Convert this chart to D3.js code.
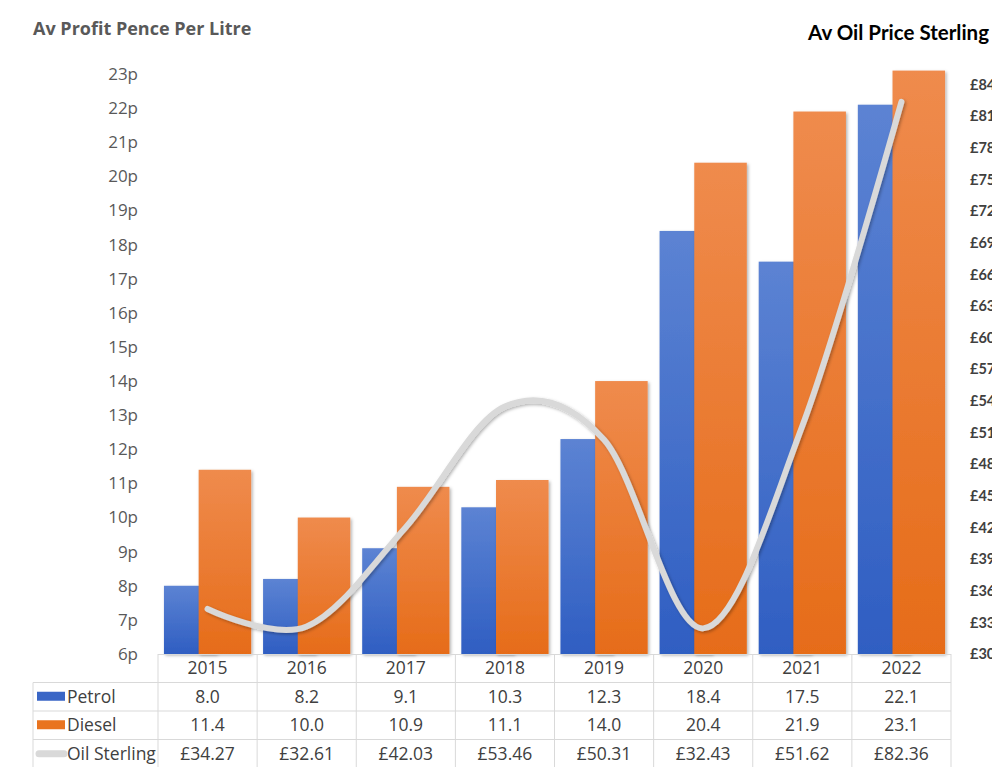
<html>
<head>
    <script src="https://cdn.jsdelivr.net/npm/d3@7"></script>
    <style>
        body { margin: 0; background: #fff; }
        text { font-family: "Open Sans", sans-serif; }
    </style>
</head>
<body>
    <svg width="992" height="767"></svg>
    <script>
        // chart data
        var years = ['2015', '2016', '2017', '2018', '2019', '2020', '2021', '2022']
        var petrol = [8.0, 8.2, 9.1, 10.3, 12.3, 18.4, 17.5, 22.1]
        var diesel = [11.4, 10.0, 10.9, 11.1, 14.0, 20.4, 21.9, 23.1]
        var oil = [34.27, 32.61, 42.03, 53.46, 50.31, 32.43, 51.62, 82.36]
        var leftTicks = [6, 7, 8, 9, 10, 11, 12, 13, 14, 15, 16, 17, 18, 19, 20, 21, 22, 23]
        var rightTicks = [30, 33, 36, 39, 42, 45, 48, 51, 54, 57, 60, 63, 66, 69, 72, 75, 78, 81, 84]

        var svg = d3.select('svg')
        var defs = svg.append('defs')

        function grad(id, c1, c2) {
            var g = defs.append('linearGradient').attr('id', id)
                .attr('x1', 0).attr('y1', 0).attr('x2', 0).attr('y2', 1)
            g.append('stop').attr('offset', '0%').attr('stop-color', c1)
            g.append('stop').attr('offset', '100%').attr('stop-color', c2)
        }
        grad('gPetrol', '#5C83D3', '#2F5EC2')
        grad('gDiesel', '#EF8B4D', '#E66C19')

        var sh = defs.append('filter').attr('id', 'shadow')
            .attr('x', '-20%').attr('y', '-20%').attr('width', '140%').attr('height', '140%')
        sh.append('feDropShadow').attr('dx', 1.5).attr('dy', 1.5)
            .attr('stdDeviation', 1.5).attr('flood-color', '#000').attr('flood-opacity', 0.3)

        var plotL = 158, plotR = 951, plotT = 74, plotB = 654

        var x = d3.scaleBand().domain(years).range([plotL, plotR])
        var y = d3.scaleLinear().domain([6, 23]).range([plotB, plotT])
        var y2 = d3.scaleLinear().domain([30, 85]).range([plotB, plotT])

        var barW = x.bandwidth() * 0.53
        var padL = x.bandwidth() * 0.06

        // bars
        var gBars = svg.append('g')
        years.forEach(function(yr, i) {
            gBars.append('rect')
                .attr('x', x(yr) + padL)
                .attr('y', y(petrol[i]))
                .attr('width', barW)
                .attr('height', plotB - y(petrol[i]))
                .attr('fill', 'url(#gPetrol)')
                .attr('filter', 'url(#shadow)')
            gBars.append('rect')
                .attr('x', x(yr) + x.bandwidth() - padL - barW)
                .attr('y', y(diesel[i]))
                .attr('width', barW)
                .attr('height', plotB - y(diesel[i]))
                .attr('fill', 'url(#gDiesel)')
                .attr('filter', 'url(#shadow)')
        })

        // oil line
        var line = d3.line()
            .x(function(d, i) { return x(years[i]) + x.bandwidth() / 2 })
            .y(function(d) { return y2(d) })
            .curve(d3.curveCatmullRom.alpha(0))
        svg.append('path')
            .datum(oil)
            .attr('d', line)
            .attr('fill', 'none')
            .attr('stroke', '#D9D9D9')
            .attr('stroke-width', 6)
            .attr('stroke-linecap', 'round')
            .attr('filter', 'url(#shadow)')

        // left axis
        var la = svg.append('g')
            .attr('transform', 'translate(141,0)')
            .call(d3.axisLeft(y).tickValues(leftTicks).tickSize(0).tickFormat(function(d) { return d + 'p' }))
        la.select('.domain').remove()
        la.selectAll('text').style('font-size', '17px').attr('fill', '#595959')
            .style('font-family', '"Open Sans", sans-serif')

        // right axis
        var ra = svg.append('g')
            .attr('transform', 'translate(967,0)')
            .call(d3.axisRight(y2).tickValues(rightTicks).tickSize(0).tickFormat(function(d) { return '£' + d }))
        ra.select('.domain').remove()
        ra.selectAll('text').style('font-size', '14.5px').style('font-weight', 'bold')
            .style('font-family', 'Lato, sans-serif').attr('fill', '#404040')

        // titles
        svg.append('text').attr('x', 33).attr('y', 35)
            .text('Av Profit Pence Per Litre')
            .style('font-size', '18px').style('font-weight', 'bold').attr('fill', '#595959')
        svg.append('text').attr('x', 808).attr('y', 40)
            .text('Av Oil Price Sterling')
            .style('font-size', '20.5px').style('font-weight', 'bold')
            .style('font-family', 'Lato, sans-serif').attr('fill', '#000')

        // data table
        var rowH = 28.5
        var tbl = svg.append('g')
        var lc = '#D9D9D9'
        var tableLeft = 33
        tbl.append('line').attr('x1', plotL).attr('x2', plotR).attr('y1', plotB + 0.5).attr('y2', plotB + 0.5).attr('stroke', lc)
        for (var r = 1; r <= 4; r++) {
            tbl.append('line').attr('x1', tableLeft).attr('x2', plotR)
                .attr('y1', plotB + r * rowH).attr('y2', plotB + r * rowH).attr('stroke', lc)
        }
        years.forEach(function(yr) {
            tbl.append('line').attr('x1', x(yr)).attr('x2', x(yr))
                .attr('y1', plotB).attr('y2', 767).attr('stroke', lc)
        })
        tbl.append('line').attr('x1', plotR).attr('x2', plotR).attr('y1', plotB).attr('y2', 767).attr('stroke', lc)
        tbl.append('line').attr('x1', tableLeft).attr('x2', tableLeft).attr('y1', plotB + rowH).attr('y2', 767).attr('stroke', lc)

        var rows = [
            { name: 'Petrol', vals: petrol.map(function(v) { return v.toFixed(1) }) },
            { name: 'Diesel', vals: diesel.map(function(v) { return v.toFixed(1) }) },
            { name: 'Oil Sterling', vals: oil.map(function(v) { return '£' + v.toFixed(2) }) }
        ]

        function cellText(cx, cy, t, anchor) {
            tbl.append('text').attr('x', cx).attr('y', cy).attr('dy', '0.35em')
                .attr('text-anchor', anchor || 'middle')
                .style('font-size', '17.5px').attr('fill', '#404040').text(t)
        }
        years.forEach(function(yr) {
            cellText(x(yr) + x.bandwidth() / 2, plotB + rowH / 2, yr)
        })
        rows.forEach(function(row, ri) {
            var cy = plotB + (ri + 1.5) * rowH
            row.vals.forEach(function(v, i) {
                cellText(x(years[i]) + x.bandwidth() / 2, cy, v)
            })
            cellText(67, cy, row.name, 'start')
        })
        // legend keys
        var r1 = plotB + 1.5 * rowH, r2 = plotB + 2.5 * rowH, r3 = plotB + 3.5 * rowH
        tbl.append('rect').attr('x', 37).attr('y', r1 - 5).attr('width', 28).attr('height', 9).attr('fill', '#3A66C6')
        tbl.append('rect').attr('x', 37).attr('y', r2 - 5).attr('width', 28).attr('height', 9).attr('fill', '#E9741F')
        tbl.append('line').attr('x1', 39).attr('x2', 64).attr('y1', r3).attr('y2', r3)
            .attr('stroke', '#D9D9D9').attr('stroke-width', 7).attr('stroke-linecap', 'round')
    </script>
</body>
</html>
